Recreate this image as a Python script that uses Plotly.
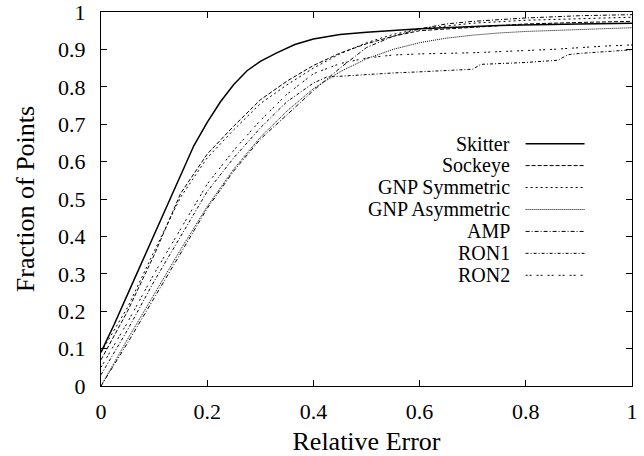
import plotly.graph_objects as go

# ---- data ----
series_names = ["Skitter", "Sockeye", "GNP Symmetric", "GNP Asymmetric", "AMP", "RON1", "RON2"]

skitter_x = [0, 0.025, 0.05, 0.075, 0.10, 0.125, 0.15, 0.175, 0.20, 0.225, 0.25, 0.275, 0.30, 0.33, 0.365, 0.40, 0.45, 0.50, 0.60, 0.75, 0.90, 1.0]
skitter_y = [0.09, 0.165, 0.245, 0.325, 0.405, 0.487, 0.567, 0.643, 0.705, 0.76, 0.806, 0.843, 0.868, 0.89, 0.913, 0.928, 0.940, 0.946, 0.955, 0.964, 0.968, 0.970]

sockeye_x = [0, 0.05, 0.10, 0.15, 0.20, 0.25, 0.30, 0.35, 0.40, 0.45, 0.50, 0.55, 0.60, 0.70, 0.80, 0.90, 1.0]
sockeye_y = [0.07, 0.20, 0.35, 0.515, 0.62, 0.695, 0.765, 0.815, 0.857, 0.89, 0.915, 0.935, 0.95, 0.96, 0.968, 0.972, 0.975]

gnpsym_x = [0, 0.05, 0.10, 0.15, 0.20, 0.25, 0.30, 0.35, 0.40, 0.45, 0.50, 0.55, 0.60, 0.70, 0.80, 0.90, 1.0]
gnpsym_y = [0.09, 0.21, 0.36, 0.505, 0.61, 0.685, 0.755, 0.805, 0.85, 0.888, 0.918, 0.94, 0.955, 0.97, 0.978, 0.983, 0.986]

gnpasym_x = [0, 0.05, 0.10, 0.15, 0.20, 0.25, 0.30, 0.35, 0.40, 0.45, 0.50, 0.55, 0.60, 0.65, 0.70, 0.75, 0.80, 0.90, 1.0]
gnpasym_y = [0, 0.125, 0.245, 0.365, 0.48, 0.58, 0.665, 0.735, 0.795, 0.84, 0.875, 0.90, 0.918, 0.93, 0.938, 0.944, 0.948, 0.953, 0.958]

amp_x = [0, 0.05, 0.10, 0.15, 0.20, 0.25, 0.30, 0.35, 0.40, 0.45, 0.50, 0.55, 0.60, 0.65, 0.70, 0.80, 0.90, 1.0]
amp_y = [0, 0.115, 0.235, 0.355, 0.475, 0.575, 0.66, 0.725, 0.79, 0.85, 0.905, 0.935, 0.955, 0.968, 0.975, 0.984, 0.99, 0.993]

ron1_x = [0, 0.05, 0.10, 0.15, 0.20, 0.25, 0.30, 0.35, 0.40, 0.425, 0.45, 0.50, 0.55, 0.60, 0.70, 0.715, 0.75, 0.80, 0.86, 0.88, 0.90, 0.95, 1.0]
ron1_y = [0.03, 0.15, 0.28, 0.40, 0.52, 0.61, 0.69, 0.76, 0.81, 0.826, 0.828, 0.834, 0.837, 0.84, 0.847, 0.86, 0.862, 0.865, 0.871, 0.886, 0.889, 0.894, 0.899]

ron2_x = [0, 0.05, 0.10, 0.15, 0.20, 0.25, 0.30, 0.35, 0.40, 0.45, 0.50, 0.55, 0.60, 0.70, 0.75, 0.80, 0.85, 0.90, 0.95, 1.0]
ron2_y = [0.05, 0.17, 0.30, 0.42, 0.54, 0.63, 0.71, 0.78, 0.835, 0.862, 0.877, 0.885, 0.888, 0.891, 0.893, 0.897, 0.90, 0.905, 0.909, 0.912]

x_ticks = [0, 0.2, 0.4, 0.6, 0.8, 1]
x_tick_labels = ["0", "0.2", "0.4", "0.6", "0.8", "1"]
y_ticks = [0, 0.1, 0.2, 0.3, 0.4, 0.5, 0.6, 0.7, 0.8, 0.9, 1]
y_tick_labels = ["0", "0.1", "0.2", "0.3", "0.4", "0.5", "0.6", "0.7", "0.8", "0.9", "1"]

# ---- styles ----
xs = [skitter_x, sockeye_x, gnpsym_x, gnpasym_x, amp_x, ron1_x, ron2_x]
ys = [skitter_y, sockeye_y, gnpsym_y, gnpasym_y, amp_y, ron1_y, ron2_y]
dashes = ["solid", "4px,2px", "2px,3px", "1px,1px", "4px,2px,1px,2px", "3px,2px,1px,2px", "2px,2px,2px,5px"]
widths = [1.5, 1, 1, 1, 1, 1, 1]

FONT = "Liberation Serif"
FS = 22
KEY_FS = 20
W, H = 644, 456
L, R, T, B = 101, 11.5, 11.5, 69.5

fig = go.Figure()
for name, x, y, d, w in zip(series_names, xs, ys, dashes, widths):
    fig.add_trace(go.Scatter(x=x, y=y, mode="lines", name=name,
                             line=dict(color="black", width=w, dash=d),
                             showlegend=False, hoverinfo="skip"))

# gnuplot-style key: right-aligned text, line sample to its right
plot_w = W - L - R
plot_h = H - T - B
text_right = (512 - L) / plot_w
samp_x0 = (526 - L) / plot_w
samp_x1 = (585 - L) / plot_w
key_top = (H - B - 143.5) / plot_h
key_step = 22 / plot_h
shapes = []
annotations = []
for i, (name, d, w) in enumerate(zip(series_names, dashes, widths)):
    yy = key_top - i * key_step
    annotations.append(dict(x=text_right, y=yy, xref="paper", yref="paper",
                            text=name, showarrow=False, xanchor="right", yanchor="middle",
                            font=dict(family=FONT, size=KEY_FS, color="black")))
    shapes.append(dict(type="line", xref="paper", yref="paper",
                       x0=samp_x0, x1=samp_x1, y0=yy, y1=yy,
                       line=dict(color="black", width=w, dash=d)))

fig.update_layout(
    width=W, height=H,
    margin=dict(l=L, r=R, t=T, b=B, autoexpand=False),
    paper_bgcolor="white", plot_bgcolor="white",
    font=dict(family=FONT, size=FS, color="black"),
    shapes=shapes, annotations=annotations,
    showlegend=False,
)
fig.update_xaxes(range=[0, 1], tickvals=x_ticks, ticktext=x_tick_labels,
                 ticks="inside", ticklen=6, tickcolor="black", mirror="ticks",
                 showline=True, linecolor="black", linewidth=1, showgrid=False, zeroline=False,
                 automargin=False, ticklabelstandoff=6, ticklabeloverflow="allow",
                 title=dict(text="Relative Error", standoff=13), tickfont=dict(family=FONT, size=FS))
fig.update_yaxes(range=[0, 1], tickvals=y_ticks, ticktext=y_tick_labels,
                 ticks="inside", ticklen=6, tickcolor="black", mirror="ticks",
                 showline=True, linecolor="black", linewidth=1, showgrid=False, zeroline=False,
                 automargin=False, ticklabelstandoff=10, ticklabeloverflow="allow",
                 title=dict(text="Fraction of Points", standoff=15), tickfont=dict(family=FONT, size=FS))

fig.write_html("out.html", config={"displayModeBar": False},
               post_script="document.body.style.margin='0';document.body.style.padding='0';")
